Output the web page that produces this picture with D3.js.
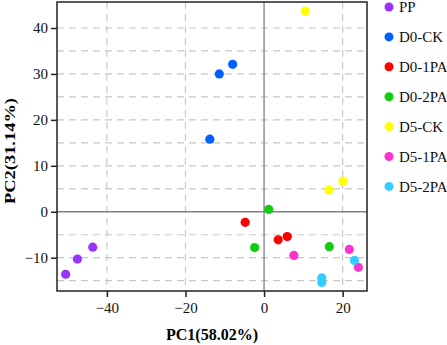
<!DOCTYPE html>
<html>
<head>
<meta charset="utf-8">
<script src="https://cdn.jsdelivr.net/npm/d3@7"></script>
<style>
  body { margin: 0; background: #fff; }
  svg { display: block; font-family: "Liberation Serif", "Times New Roman", serif; }
</style>
</head>
<body>
<div id="chart"></div>
<script>
const groups = ['PP', 'D0-CK', 'D0-1PA', 'D0-2PA', 'D5-CK', 'D5-1PA', 'D5-2PA'];
const groupColors = ['#9933ff', '#0060ff', '#ff0000', '#11cc11', '#ffff00', '#ff33cc', '#33ccff'];

// PC1 / PC2 scores per group
const pcPP = [[-50.5, -13.6], [-47.5, -10.3], [-43.6, -7.7]];
const pcD0CK = [[-8.0, 32.1], [-11.4, 30.0], [-13.8, 15.8]];
const pcD01PA = [[-4.8, -2.3], [3.6, -6.1], [5.9, -5.4]];
const pcD02PA = [[1.2, 0.5], [-2.4, -7.8], [16.6, -7.6]];
const pcD5CK = [[10.5, 43.7], [20.1, 6.7], [16.5, 4.75]];
const pcD51PA = [[7.6, -9.5], [21.7, -8.2], [24.0, -12.1]];
const pcD52PA = [[23.0, -10.6], [14.7, -14.4], [14.7, -15.4]];

const xTicks = [-40, -20, 0, 20];
const yTicks = [-10, 0, 10, 20, 30, 40];
const yGrid = [-15, -10, -5, 5, 10, 15, 20, 25, 30, 35, 40];
const xGrid = [-40, -20, 20];

const seriesList = [pcPP, pcD0CK, pcD01PA, pcD02PA, pcD5CK, pcD51PA, pcD52PA];
const points = [];
seriesList.forEach((s, i) => s.forEach(p => points.push({ g: i, x: p[0], y: p[1] })));

const width = 447, height = 345;
const plot = { left: 57, right: 367, top: 2, bottom: 291 };

const svg = d3.select('#chart').append('svg')
  .attr('width', width)
  .attr('height', height);

const x = d3.scaleLinear().domain([-52.7, 26.2]).range([plot.left, plot.right]);
const y = d3.scaleLinear().domain([-17.25, 45.66]).range([plot.bottom, plot.top]);

// grid
svg.append('g').selectAll('line.hg').data(yGrid).join('line')
  .attr('x1', plot.left).attr('x2', plot.right)
  .attr('y1', d => y(d)).attr('y2', d => y(d))
  .attr('stroke', '#c8c8c8').attr('stroke-width', 1.2)
  .attr('stroke-dasharray', '7,5');

svg.append('g').selectAll('line.vg').data(xGrid).join('line')
  .attr('y1', plot.top).attr('y2', plot.bottom)
  .attr('x1', d => x(d)).attr('x2', d => x(d))
  .attr('stroke', '#c8c8c8').attr('stroke-width', 1.2)
  .attr('stroke-dasharray', '7,5');

// zero lines
svg.append('line')
  .attr('x1', plot.left).attr('x2', plot.right)
  .attr('y1', y(0)).attr('y2', y(0))
  .attr('stroke', '#808080').attr('stroke-width', 1.3);
svg.append('line')
  .attr('x1', x(0)).attr('x2', x(0))
  .attr('y1', plot.top).attr('y2', plot.bottom)
  .attr('stroke', '#808080').attr('stroke-width', 1.3);

// frame
svg.append('rect')
  .attr('x', plot.left).attr('y', plot.top)
  .attr('width', plot.right - plot.left).attr('height', plot.bottom - plot.top)
  .attr('fill', 'none').attr('stroke', '#222').attr('stroke-width', 1.5);

// axes
const xAxis = svg.append('g')
  .attr('transform', `translate(0,${plot.bottom})`)
  .call(d3.axisBottom(x).tickValues(xTicks).tickSize(6).tickPadding(5).tickFormat(d3.format('d')));
const yAxis = svg.append('g')
  .attr('transform', `translate(${plot.left},0)`)
  .call(d3.axisLeft(y).tickValues(yTicks).tickSize(6).tickPadding(3).tickFormat(d3.format('d')));

[xAxis, yAxis].forEach(a => {
  a.attr('font-family', null);
  a.select('.domain').remove();
  a.selectAll('.tick line').attr('stroke', '#222').attr('stroke-width', 1.5);
  a.selectAll('.tick text')
    .attr('fill', '#111')
    .style('font-family', '"Liberation Serif", serif')
    .style('font-size', '15px');
});

// points
svg.append('g').selectAll('circle').data(points).join('circle')
  .attr('cx', d => x(d.x))
  .attr('cy', d => y(d.y))
  .attr('r', 4.6)
  .attr('fill', d => groupColors[d.g]);

// axis titles
svg.append('text')
  .attr('x', (plot.left + plot.right) / 2)
  .attr('y', 340)
  .attr('text-anchor', 'middle')
  .style('font-size', '16px')
  .style('font-weight', 'bold')
  .text('PC1(58.02%)');

svg.append('text')
  .attr('transform', 'translate(14.5,151) rotate(-90)')
  .attr('text-anchor', 'middle')
  .attr('textLength', 106)
  .attr('lengthAdjust', 'spacingAndGlyphs')
  .style('font-size', '15px')
  .style('font-weight', 'bold')
  .text('PC2(31.14%)');

// legend
const legend = svg.append('g').selectAll('g').data(groups).join('g')
  .attr('transform', (d, i) => `translate(389,${7 + i * 29.9})`);
legend.append('circle').attr('r', 4.5).attr('fill', (d, i) => groupColors[i]);
legend.append('text')
  .attr('x', 10).attr('dy', '0.35em')
  .style('font-size', '15px')
  .attr('fill', '#111')
  .text(d => d);
</script>
</body>
</html>
